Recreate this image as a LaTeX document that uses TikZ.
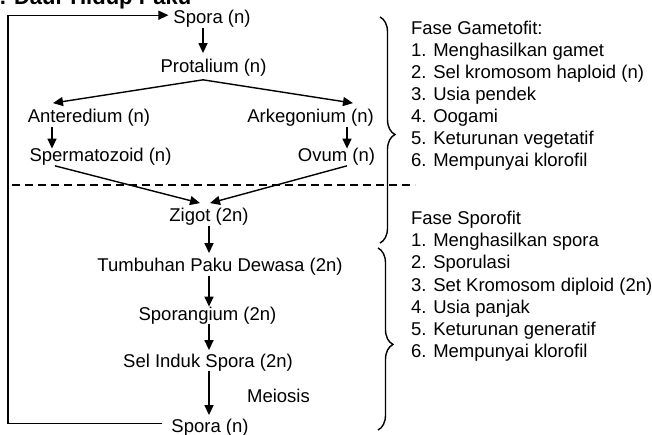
\documentclass[tikz,border=0pt]{standalone}
\usepackage{fontspec}
\setmainfont{Liberation Sans}
\usetikzlibrary{arrows.meta,decorations.pathreplacing}
\begin{document}
\begin{tikzpicture}[x=1pt,y=-1pt,
  lbl/.style={inner sep=0pt, outer sep=0pt, anchor=base, font=\fontsize{18.5}{22}\selectfont},
  side/.style={lbl, anchor=base west},
  arr/.style={line width=1.4pt, -{Triangle[length=10pt,width=9pt]}},
  ln/.style={line width=1.4pt},
  brc/.style={line width=1.4pt, decorate, decoration={brace, amplitude=15pt, aspect=#1}}]
\useasboundingbox (0,0) rectangle (652,435);
\clip (0,0) rectangle (652,435);

% title (cut off at the top edge, as in the reference)
\node[lbl, anchor=base west, font=\fontsize{22}{26}\selectfont\bfseries] (title) at (-12.4,4.5) {c. Daur Hidup Paku};

% cycle nodes
\node[lbl] (spora1) at (212,24) {Spora (n)};
\node[lbl] (prot) at (213.5,73) {Protalium (n)};
\node[lbl] (ant) at (89,123) {Anteredium (n)};
\node[lbl] (ark) at (310.5,123) {Arkegonium (n)};
\node[lbl] (sperm) at (100.5,162) {Spermatozoid (n)};
\node[lbl] (ovum) at (336.5,162) {Ovum (n)};
\node[lbl] (zigot) at (209,222) {Zigot (2n)};
\node[lbl] (tumb) at (220,272) {Tumbuhan Paku Dewasa (2n)};
\node[lbl] (spor) at (207.5,320) {Sporangium (2n)};
\node[lbl] (sel) at (208,367) {Sel Induk Spora (2n)};
\node[lbl] (meio) at (278.5,402) {Meiosis};
\node[lbl] (spora2) at (210,432) {Spora (n)};

% spine coordinates
\coordinate (sp1) at (203,0);
\coordinate (sp2) at (209,0);
\coordinate (lc) at (8,0);

% connectors
\draw[arr, shorten >=6.5pt] (sp1 |- spora1.south) -- (sp1 |- prot.north);
\draw[arr] ([xshift=-10.5pt,yshift=-3pt]prot.south) -- ([xshift=-36pt,yshift=6.5pt]ant.north);
\draw[arr] ([xshift=-10.5pt,yshift=-3pt]prot.south) -- ([xshift=42.5pt,yshift=6.5pt]ark.north);
\draw[arr] ([xshift=-37pt]ant.south) -- ([xshift=-37pt]ant.south |- sperm.north);
\draw[arr] ([xshift=36.5pt]ark.south) -- ([xshift=36.5pt]ark.south |- ovum.north);
\draw[arr] ([xshift=-45.5pt]sperm.south) -- ([xshift=-9pt,yshift=5.5pt]zigot.north);
\draw[arr] ([xshift=10.5pt]ovum.south) -- ([xshift=1pt,yshift=5.5pt]zigot.north);
\draw[arr, shorten >=5.5pt] (sp2 |- zigot.south) -- (sp2 |- tumb.north);
\draw[arr] (sp2 |- tumb.south) -- (sp2 |- spor.north);
\draw[arr, shorten >=3.5pt] (sp2 |- spor.south) -- (sp2 |- sel.north);
\draw[arr, shorten >=3.5pt] (sp2 |- sel.south) -- (sp2 |- spora2.north);

% return loop
\draw[arr, line join=miter] ([xshift=-9pt,yshift=4pt]spora2.west) -- ([yshift=4pt]spora2.west -| lc)
  -- ([yshift=4pt]spora1.west -| lc) -- ([xshift=-5pt,yshift=4pt]spora1.west);

% dashed separator
\coordinate (d1) at (12,185);
\coordinate (d2) at (415,185);
\draw[ln, dash pattern=on 8pt off 5pt] (d1) -- (d2);

% braces
\coordinate (b1t) at (380,17);
\coordinate (b1b) at (380,243);
\coordinate (b2t) at (378,248);
\coordinate (b2b) at (378,430);
\draw[brc=0.52] (b1t) -- (b1b);
\draw[brc=0.53] (b2t) -- (b2b);

% side lists
\foreach \t [count=\i from 0] in {Fase Gametofit:, 1. Menghasilkan gamet, 2. Sel kromosom haploid (n), 3. Usia pendek, 4. Oogami, 5. Keturunan vegetatif, 6. Mempunyai klorofil}
  \node[side] (g\i) at (411,{35+22*\i}) {\t};
\foreach \t [count=\i from 0] in {Fase Sporofit, 1. Menghasilkan spora, 2. Sporulasi, 3. Set Kromosom diploid (2n), 4. Usia panjak, 5. Keturunan generatif, 6. Mempunyai klorofil}
  \node[side] (s\i) at (411,{225+22*\i}) {\t};
\end{tikzpicture}
\end{document}
